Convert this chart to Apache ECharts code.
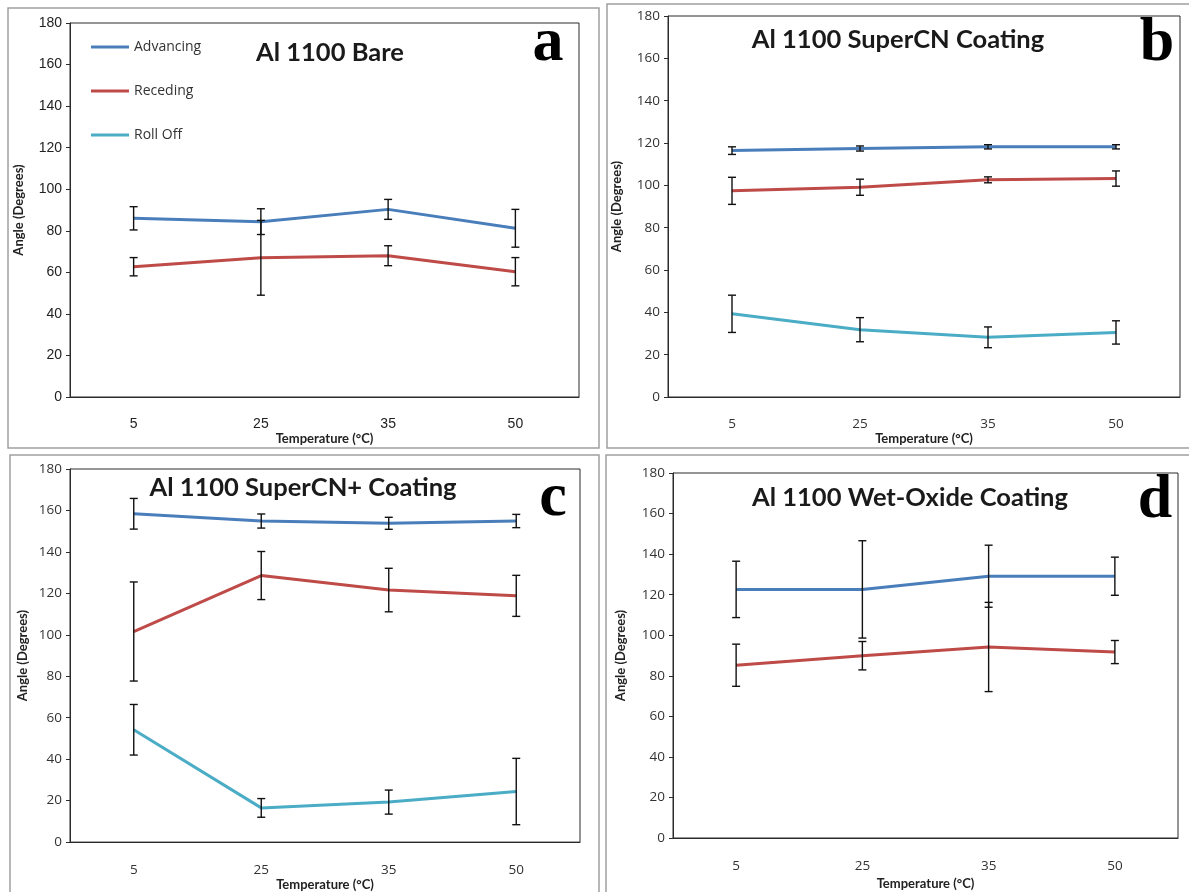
<!DOCTYPE html>
<html>
<head>
<meta charset="utf-8">
<script src="https://cdn.jsdelivr.net/npm/echarts@6/dist/echarts.min.js"></script>
<style>
html,body{margin:0;padding:0;background:#fff;}
#chart{width:1189px;height:892px;}
</style>
</head>
<body>
<div id="chart"></div>
<script>
// ---- data ----
const categories = ['5', '25', '35', '50'];
const seriesNames = ['Advancing', 'Receding', 'Roll Off'];
const panelTitles = ['Al 1100 Bare', 'Al 1100 SuperCN Coating', 'Al 1100 SuperCN+ Coating', 'Al 1100 Wet-Oxide Coating'];
const panelLetters = ['a', 'b', 'c', 'd'];
const xAxisName = 'Temperature (°C)';
const yAxisName = 'Angle (Degrees)';

// panel a: Bare
const aAdvancing = [86.0, 84.4, 90.3, 81.2];
const aAdvancingErr = [5.6, 6.2, 4.8, 9.1];
const aReceding = [62.7, 67.0, 68.0, 60.3];
const aRecedingErr = [4.4, 18.0, 4.8, 6.8];

// panel b: SuperCN
const bAdvancing = [116.4, 117.4, 118.2, 118.2];
const bAdvancingErr = [1.8, 1.2, 1.0, 1.0];
const bReceding = [97.4, 99.1, 102.6, 103.2];
const bRecedingErr = [6.4, 3.8, 1.4, 3.6];
const bRollOff = [39.3, 31.8, 28.2, 30.5];
const bRollOffErr = [8.8, 5.7, 4.9, 5.5];

// panel c: SuperCN+
const cAdvancing = [158.4, 154.9, 153.8, 154.9];
const cAdvancingErr = [7.4, 3.4, 2.9, 3.2];
const cReceding = [101.6, 128.6, 121.6, 118.8];
const cRecedingErr = [23.9, 11.6, 10.5, 9.9];
const cRollOff = [54.2, 16.5, 19.3, 24.4];
const cRollOffErr = [12.2, 4.5, 5.8, 16.0];

// panel d: Wet-Oxide
const dAdvancing = [122.6, 122.6, 129.1, 129.1];
const dAdvancingErr = [13.9, 24.0, 15.3, 9.4];
const dReceding = [85.2, 89.9, 94.2, 91.7];
const dRecedingErr = [10.4, 7.0, 22.0, 5.7];

// ---- styling / layout ----
const colors = {'Advancing': '#4A7EBB', 'Receding': '#BE4B48', 'Roll Off': '#4BACC6'};
const grids = [
  {left: 70, top: 23, width: 509, height: 374},
  {left: 668, top: 16, width: 512, height: 381},
  {left: 70, top: 469, width: 510, height: 378},
  {left: 673, top: 473, width: 505, height: 365}
];
const tickFont = [
  {fontFamily: 'Liberation Sans', fontSize: 14, color: '#222'},
  {fontFamily: 'Open Sans', fontSize: 13.5, color: '#333'},
  {fontFamily: 'Open Sans', fontSize: 13.5, color: '#333'},
  {fontFamily: 'Open Sans', fontSize: 13.5, color: '#333'}
];
const xLabelMargin = [20, 20, 21, 21];
const xNameGap = [34, 34, 31, 39];
const yNameGap = [45, 45, 41, 46];
const titlePos = [[330, 53], [898, 40], [303, 488], [910, 498]];
const letterPos = [[548, 44], [1157, 44], [553, 499], [1155, 501]];
const frames = [
  [8, 8, 591, 440],
  [607, 4, 600, 444],
  [10, 455, 589, 460],
  [606, 455, 600, 460]
];

const panels = [
  [['Advancing', aAdvancing, aAdvancingErr], ['Receding', aReceding, aRecedingErr]],
  [['Advancing', bAdvancing, bAdvancingErr], ['Receding', bReceding, bRecedingErr], ['Roll Off', bRollOff, bRollOffErr]],
  [['Advancing', cAdvancing, cAdvancingErr], ['Receding', cReceding, cRecedingErr], ['Roll Off', cRollOff, cRollOffErr]],
  [['Advancing', dAdvancing, dAdvancingErr], ['Receding', dReceding, dRecedingErr]]
];

const axisColor = '#2b2b2b';
const xAxes = [], yAxes = [], series = [], gridOpts = [], graphics = [];

grids.forEach((g, i) => {
  gridOpts.push(Object.assign({show: true, borderColor: axisColor, borderWidth: 1, backgroundColor: 'transparent'}, g));
  xAxes.push({
    type: 'category', gridIndex: i, data: categories, boundaryGap: true,
    name: xAxisName, nameLocation: 'middle', nameGap: xNameGap[i],
    nameTextStyle: {fontFamily: 'Lato', fontWeight: 'bold', fontSize: 13, color: '#222'},
    axisLine: {lineStyle: {color: axisColor, width: 1}},
    axisTick: {alignWithLabel: true, length: 4, lineStyle: {color: axisColor}},
    axisLabel: Object.assign({margin: xLabelMargin[i]}, tickFont[i]),
    splitLine: {show: false}
  });
  yAxes.push({
    type: 'value', gridIndex: i, min: 0, max: 180, interval: 20,
    name: yAxisName, nameLocation: 'middle', nameGap: yNameGap[i],
    nameTextStyle: {fontFamily: 'Lato', fontWeight: 'bold', fontSize: 13, color: '#222'},
    axisLine: {show: true, lineStyle: {color: axisColor, width: 1}},
    axisTick: {show: true, length: 4, lineStyle: {color: axisColor}},
    axisLabel: Object.assign({margin: 8}, tickFont[i]),
    splitLine: {show: false}
  });
  panels[i].forEach(([name, vals, errs]) => {
    series.push({
      type: 'line', name: name, xAxisIndex: i, yAxisIndex: i,
      data: vals, symbol: 'none', smooth: false,
      lineStyle: {color: colors[name], width: 3},
      itemStyle: {color: colors[name]},
      z: 2
    });
    series.push({
      type: 'custom', name: 'err-' + i + '-' + name, xAxisIndex: i, yAxisIndex: i,
      data: vals.map((v, k) => [k, v, errs[k]]),
      encode: {x: 0, y: 1},
      z: 3,
      renderItem: function (params, api) {
        const x = api.value(0), v = api.value(1), e = api.value(2);
        const hi = api.coord([x, v + e]);
        const lo = api.coord([x, v - e]);
        const cw = 4;
        const st = {stroke: '#111', lineWidth: 1.4};
        return {
          type: 'group',
          children: [
            {type: 'line', shape: {x1: hi[0], y1: hi[1], x2: lo[0], y2: lo[1]}, style: st},
            {type: 'line', shape: {x1: hi[0] - cw, y1: hi[1], x2: hi[0] + cw, y2: hi[1]}, style: st},
            {type: 'line', shape: {x1: lo[0] - cw, y1: lo[1], x2: lo[0] + cw, y2: lo[1]}, style: st}
          ]
        };
      }
    });
  });
  graphics.push({
    type: 'rect', shape: {x: frames[i][0], y: frames[i][1], width: frames[i][2], height: frames[i][3]},
    style: {fill: 'none', stroke: '#a0a0a0', lineWidth: 1.5}, z: -10
  });
  graphics.push({
    type: 'text', x: titlePos[i][0], y: titlePos[i][1],
    style: {text: panelTitles[i], font: 'bold 25.5px Lato', fill: '#1a1a1a', textAlign: 'center', textVerticalAlign: 'middle'}
  });
  graphics.push({
    type: 'text', x: letterPos[i][0], y: letterPos[i][1],
    style: {text: panelLetters[i], font: 'bold 62px "Liberation Serif"', fill: '#000', textAlign: 'center', textVerticalAlign: 'middle'}
  });
});

const chart = echarts.init(document.getElementById('chart'), null, {renderer: 'canvas'});
chart.setOption({
  animation: false,
  backgroundColor: '#fff',
  legend: {
    data: seriesNames.map(n => ({name: n, icon: 'rect'})),
    orient: 'vertical', left: 91, top: 37, padding: 0,
    itemWidth: 38, itemHeight: 3, itemGap: 24,
    textStyle: {fontFamily: 'Open Sans', fontSize: 14, color: '#333', lineHeight: 20}
  },
  grid: gridOpts,
  xAxis: xAxes,
  yAxis: yAxes,
  series: series,
  graphic: graphics
});
</script>
</body>
</html>
